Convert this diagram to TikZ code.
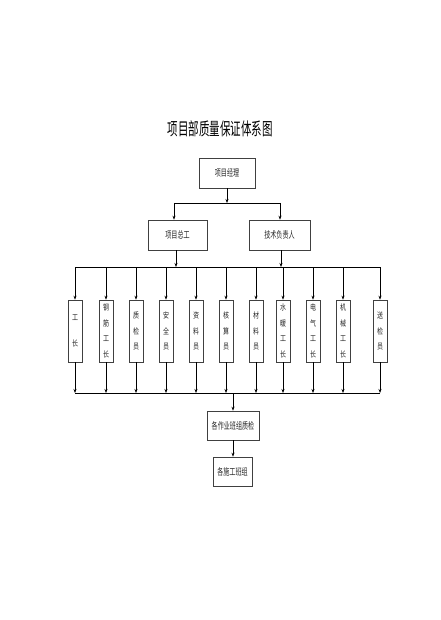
\documentclass[tikz,border=0pt]{standalone}
\usepackage{fontspec}
\newfontfamily\cjkt[FakeStretch=0.6]{Noto Sans CJK SC}
\newfontfamily\cjkb[FakeStretch=0.64]{Noto Sans CJK SC}
\newfontfamily\cjkc[FakeStretch=0.75]{Noto Sans CJK SC}
\usetikzlibrary{arrows.meta}
\tikzset{
  box/.style={draw=black!75, line width=0.6pt, fill=white, inner sep=0pt,
    font=\cjkb\fontsize{9.5}{10}\selectfont, text=black!85},
  colbox/.style={draw=black!75, line width=0.6pt, fill=white, inner sep=0pt,
    minimum width=14pt, minimum height=62pt, align=center,
    font=\cjkc\fontsize{8}{15.5}\selectfont, text=black!85},
  ln/.style={line width=0.6pt, black},
  arr/.style={ln, -{Stealth[length=4pt,width=3pt]}},
}
\begin{document}
\begin{tikzpicture}[x=1pt,y=-1pt]
\useasboundingbox (0,0) rectangle (440,620);
\fill[white] (0,0) rectangle (440,620);
\node[font=\cjkt\fontsize{17.5}{18}\selectfont] (title) at (220,129) {项目部质量保证体系图};
\node[box, minimum width=56pt, minimum height=30pt] (pm) at (227,173) {项目经理};
\node[box, minimum width=59pt, minimum height=30pt] (zg) at (177.5,235) {项目总工};
\node[box, minimum width=61pt, minimum height=30pt] (js) at (279.5,235) {技术负责人};
% columns
\node[colbox] (c1) at (75,331) {工\\[11pt]长};
\node[colbox] (c2) at (106,331) {钢\\筋\\工\\长};
\node[colbox] (c3) at (136,331) {质\\检\\员};
\node[colbox] (c4) at (166,331) {安\\全\\员};
\node[colbox] (c5) at (196,331) {资\\料\\员};
\node[colbox] (c6) at (226,331) {核\\算\\员};
\node[colbox] (c7) at (256,331) {材\\料\\员};
\node[colbox] (c8) at (283,331) {水\\暖\\工\\长};
\node[colbox] (c9) at (313,331) {电\\气\\工\\长};
\node[colbox] (c10) at (343,331) {机\\械\\工\\长};
\node[colbox] (c11) at (380,331) {送\\检\\员};
\node[box, minimum width=52pt, minimum height=29pt, font=\cjkb\fontsize{9.5}{10}\selectfont] (bz) at (233,425.5) {各作业班组质检};
\node[box, minimum width=39pt, minimum height=29pt] (sg) at (232.5,471.5) {各施工班组};
% junctions
\coordinate (j0) at (227,203);
\coordinate (jl) at (174,203);
\coordinate (jr) at (280,203);
\coordinate (t1) at (176,267);
\coordinate (t2) at (281,267);
\coordinate (b0) at (233,393);
% top level
\draw[arr] (pm.south) -- (j0);
\draw[ln] (jl) -- (jr);
\draw[arr] (jl) -- (jl |- zg.north);
\draw[arr] (jr) -- (jr |- js.north);
\draw[arr] (zg.south -| t1) -- (t1);
\draw[arr] (js.south -| t2) -- (t2);
\draw[ln] (c1.north |- t1) -- (c11.north |- t1);
\draw[ln] (c1.south |- b0) -- (c11.south |- b0);
\foreach \c in {c1,c2,c3,c4,c5,c6,c7,c8,c9,c10,c11}{
  \draw[arr] (\c.north |- t1) -- (\c.north);
  \draw[arr] (\c.south) -- (\c.south |- b0);
}
\draw[arr] (b0) -- (b0 |- bz.north);
\draw[arr] (bz.south -| b0) -- (b0 |- sg.north);
\end{tikzpicture}
\end{document}
